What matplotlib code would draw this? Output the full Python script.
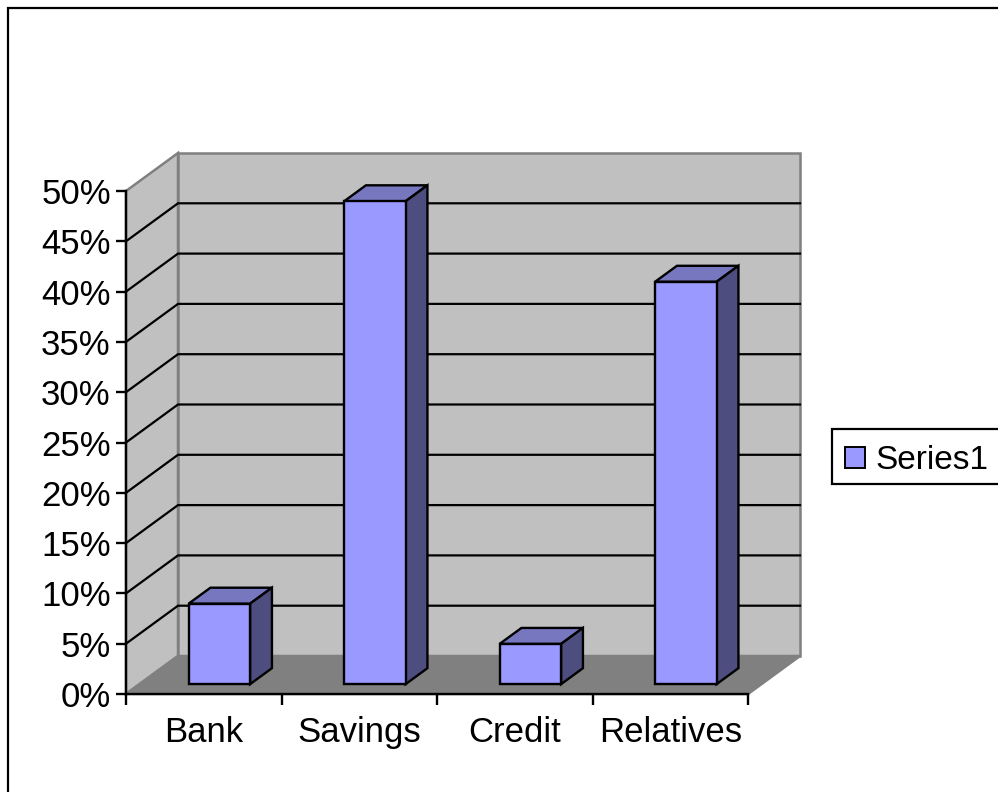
from matplotlib import pyplot as plt
from matplotlib.patches import Patch, Polygon, Rectangle

categories = ["Bank", "Savings", "Credit", "Relatives"]
values = [8, 48, 4, 40]
y_ticks = [0, 5, 10, 15, 20, 25, 30, 35, 40, 45, 50]
y_labels = ["0%", "5%", "10%", "15%", "20%", "25%", "30%", "35%", "40%", "45%", "50%"]
series_name = "Series1"

plt.rcParams['font.family'] = ['Liberation Sans', 'DejaVu Sans']

W, H = 998, 792
fig = plt.figure(figsize=(W / 100, H / 100), dpi=100)
fig.add_artist(Rectangle((8 / W, -0.1), 1.1, 1.1 - 8 / H, transform=fig.transFigure,
                         fill=False, ec="black", lw=1.6))

ax = fig.add_axes([126 / W, (H - 694) / H, 622 / W, 503 / H])
ax.set_xlim(0, len(categories))
ax.set_ylim(0, 50)
ax.patch.set_visible(False)

# depth of the fake 3d box, in data units
dx = 52 / 155.5
dy = 38 / 10.06


def poly(pts, fc, ec="black", lw=1.7, z=2):
    ax.add_patch(Polygon(pts, closed=True, fc=fc, ec=ec, lw=lw, zorder=z,
                         clip_on=False, joinstyle="miter"))


nx = len(categories)
# walls and floor
poly([(0, 0), (dx, dy), (dx, 50 + dy), (0, 50)], "#C0C0C0", "#808080", 1.8, 1)
poly([(dx, dy), (nx + dx, dy), (nx + dx, 50 + dy), (dx, 50 + dy)], "#C0C0C0", "#808080", 1.8, 1)
poly([(0, 0), (nx, 0), (nx + dx, dy), (dx, dy)], "#808080", "#808080", 1.8, 1)

# gridlines run along the side wall and across the back wall
for t in y_ticks[1:-1]:
    ax.plot([0, dx, nx + dx], [t, t + dy, t + dy], color="black", lw=1.6, zorder=1.5,
            clip_on=False, solid_joinstyle="miter")

# bars
bar_w = 61.5 / 155.5
front = 0.3
depth = 0.42
for i, v in enumerate(values):
    x0 = i + 0.5 - bar_w / 2 + front * dx
    x1 = x0 + bar_w
    y0 = 0.98
    y1 = y0 + v
    ddx, ddy = depth * dx, depth * dy
    poly([(x0, y0), (x1, y0), (x1, y1), (x0, y1)], "#9999FF", z=4)
    poly([(x0, y1), (x1, y1), (x1 + ddx, y1 + ddy), (x0 + ddx, y1 + ddy)], "#7777C0", z=3)
    poly([(x1, y0), (x1 + ddx, y0 + ddy), (x1 + ddx, y1 + ddy), (x1, y1)], "#4D4D80", z=3)

for s in ["top", "right"]:
    ax.spines[s].set_visible(False)
for s in ["left", "bottom"]:
    ax.spines[s].set_linewidth(1.7)
    ax.spines[s].set_zorder(5)

ax.set_yticks(y_ticks)
ax.set_yticklabels(y_labels, fontsize=25)
ax.set_xticks(range(nx + 1))
ax.set_xticklabels([])
ax.set_xticks([i + 0.5 for i in range(nx)], minor=True)
ax.set_xticklabels(categories, minor=True, fontsize=25)
ax.tick_params(axis="y", length=7, width=1.7, pad=4)
ax.tick_params(axis="x", which="major", length=8, width=1.7)
ax.tick_params(axis="x", which="minor", length=0, pad=16)

# legend box drawn apart, the text sits too high inside a normal legend frame
fig.add_artist(Rectangle((832 / W, (H - 484) / H), 0.2, 55 / H, transform=fig.transFigure,
                         fc="white", ec="black", lw=1.6))
fig.legend(handles=[Patch(fc="#9999FF", ec="black", lw=1.4, label=series_name)],
           loc="center left", bbox_to_anchor=(832 / W, (H - 460.5) / H), fontsize=24,
           frameon=False, borderaxespad=0,
           handlelength=0.6, handleheight=0.6, handletextpad=0.33, borderpad=0.38)

fig.savefig("out.png", dpi=100)
